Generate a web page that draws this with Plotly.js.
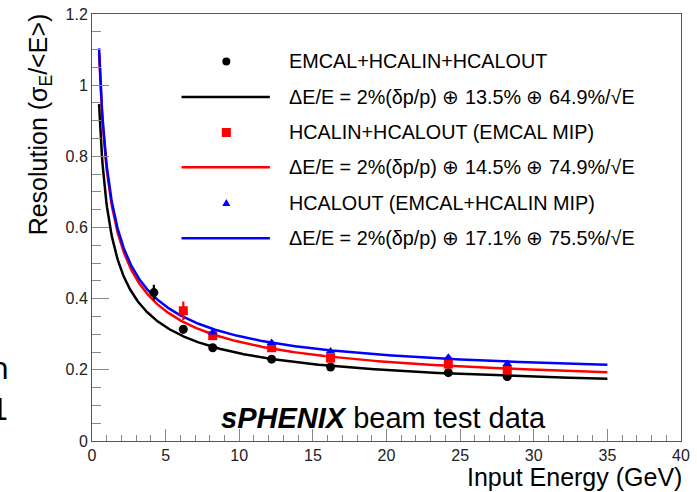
<!DOCTYPE html>
<html>
<head>
<meta charset="utf-8">
<script src="https://cdn.plot.ly/plotly-3.0.1.min.js"></script>
<style>html,body{margin:0;padding:0;background:#fff;}#chart{width:697px;height:492px;}</style>
</head>
<body>
<div id="chart"></div>
<script>
// ---- data ----
var energyAll = [4.2, 6.2, 8.2, 12.2, 16.2, 24.2, 28.2];
var resAll    = [0.417, 0.314, 0.262, 0.230, 0.208, 0.192, 0.181];
var errAll    = [0.022, 0.012, 0.005, 0.004, 0.004, 0.004, 0.004];

var energyHcal = [6.2, 8.2, 12.2, 16.2, 24.2, 28.2];
var resHcal    = [0.366, 0.296, 0.262, 0.233, 0.216, 0.199];
var errHcal    = [0.026, 0.006, 0.005, 0.004, 0.004, 0.004];

var energyOut = [8.2, 12.2, 16.2, 24.2, 28.2];
var resOut    = [0.305, 0.276, 0.252, 0.235, 0.217];
var errOut    = [0.005, 0.004, 0.004, 0.004, 0.004];

// fit parameters [momentum term, constant term, stochastic term] from the legend
var fitAll  = [0.02, 0.135, 0.649];
var fitHcal = [0.02, 0.145, 0.749];
var fitOut  = [0.02, 0.171, 0.755];
var fitRange = [0.48, 35];

var legendLabels = [
  'EMCAL+HCALIN+HCALOUT',
  '\u0394E/E = 2%(\u03b4p/p) \u2295 13.5% \u2295 64.9%/\u221aE',
  'HCALIN+HCALOUT (EMCAL MIP)',
  '\u0394E/E = 2%(\u03b4p/p) \u2295 14.5% \u2295 74.9%/\u221aE',
  'HCALOUT (EMCAL+HCALIN MIP)',
  '\u0394E/E = 2%(\u03b4p/p) \u2295 17.1% \u2295 75.5%/\u221aE'
];

// ---- fit curves (resolution function with the stated parameters) ----
function fitCurve(p) {
  var xs = [], ys = [], n = 700;
  for (var i = 0; i <= n; i++) {
    var e = fitRange[0] + (fitRange[1] - fitRange[0]) * i / n;
    xs.push(e);
    ys.push(Math.sqrt(p[0]*p[0] + p[1]*p[1] + p[2]*p[2]/e));
  }
  return {x: xs, y: ys};
}
var cA = fitCurve(fitAll), cH = fitCurve(fitHcal), cO = fitCurve(fitOut);

var FONT = 'Liberation Sans, Arial, sans-serif';
var LW = 2.5;

var traces = [
  {x: cA.x, y: cA.y, mode: 'lines', line: {color: '#000000', width: LW}, showlegend: false, hoverinfo: 'skip'},
  {x: cH.x, y: cH.y, mode: 'lines', line: {color: '#ff0000', width: LW}, showlegend: false, hoverinfo: 'skip'},
  {x: cO.x, y: cO.y, mode: 'lines', line: {color: '#0000ff', width: LW}, showlegend: false, hoverinfo: 'skip'},
  {x: energyAll, y: resAll, mode: 'markers', marker: {symbol: 'circle', size: 9, color: '#000000'},
   error_y: {type: 'data', array: errAll, visible: true, width: 0, thickness: 2.2, color: '#000000'}, showlegend: false},
  {x: energyHcal, y: resHcal, mode: 'markers', marker: {symbol: 'square', size: 9, color: '#ff0000'},
   error_y: {type: 'data', array: errHcal, visible: true, width: 0, thickness: 2.2, color: '#ff0000'}, showlegend: false},
  {x: energyOut, y: resOut, mode: 'markers', marker: {symbol: 'triangle-up', size: 8.5, color: '#0000ff'},
   error_y: {type: 'data', array: errOut, visible: true, width: 0, thickness: 2.2, color: '#0000ff'}, showlegend: false}
];

// pixel helpers for the drawn legend (plot area: x 92.3..680.7, y 14.3..441)
var L = 92.3, R = 680.7, T = 14.3, B = 441;
function px(v) { return (v - L) / (R - L); }
function py(v) { return (B - v) / (B - T); }

var rowY = [61.7, 97.2, 132.7, 167.4, 203.0, 238.3];
var symX = 226.5, lineX0 = 181.7, lineX1 = 270, textX = 288.5;

var shapes = [];
shapes.push({type: 'circle', xref: 'paper', yref: 'paper', x0: px(symX - 4), x1: px(symX + 4), y0: py(rowY[0] + 4), y1: py(rowY[0] - 4),
  fillcolor: '#000000', line: {width: 0}});
shapes.push({type: 'rect', xref: 'paper', yref: 'paper', x0: px(symX - 4.5), x1: px(symX + 4.5), y0: py(rowY[2] + 4.5), y1: py(rowY[2] - 4.5),
  fillcolor: '#ff0000', line: {width: 0}});
(function(){
  var cy = rowY[4];
  var path = 'M' + px(symX - 4) + ',' + py(cy + 3.2) + ' L' + px(symX + 4) + ',' + py(cy + 3.2) + ' L' + px(symX) + ',' + py(cy - 3.8) + ' Z';
  shapes.push({type: 'path', xref: 'paper', yref: 'paper', path: path, fillcolor: '#0000ff', line: {width: 0}});
})();
var lineColors = ['#000000', '#ff0000', '#0000ff'];
[1, 3, 5].forEach(function(r, k) {
  shapes.push({type: 'line', xref: 'paper', yref: 'paper', x0: px(lineX0), x1: px(lineX1), y0: py(rowY[r]), y1: py(rowY[r]),
    line: {color: lineColors[k], width: LW}});
});

var annotations = [];
legendLabels.forEach(function(t, i) {
  annotations.push({xref: 'paper', yref: 'paper', x: px(textX), y: py(rowY[i]), xanchor: 'left', yanchor: 'middle',
    text: t, showarrow: false, borderpad: 0, font: {family: FONT, size: 19.8, color: '#000000'}});
});
annotations.push({xref: 'paper', yref: 'paper', x: px(40), y: py(13), xanchor: 'center', yanchor: 'top', textangle: -90,
  text: 'Resolution (\u03c3<sub>E</sub>/&lt;E&gt;)', showarrow: false, borderpad: 0, font: {family: FONT, size: 25, color: '#000000'}});
annotations.push({xref: 'paper', yref: 'paper', x: px(682.5), y: py(477), xanchor: 'right', yanchor: 'middle',
  text: 'Input Energy (GeV)', showarrow: false, borderpad: 0, font: {family: FONT, size: 25, color: '#000000'}});
annotations.push({xref: 'paper', yref: 'paper', x: px(383.5), y: py(418.5), xanchor: 'center', yanchor: 'middle',
  text: '<b><i>sPHENIX</i></b> beam test data', showarrow: false, borderpad: 0, font: {family: FONT, size: 29, color: '#000000'}});
// fragments of neighbouring slide text at the left edge
annotations.push({xref: 'paper', yref: 'paper', x: px(10), y: py(369), xanchor: 'right', yanchor: 'middle',
  text: 'n', showarrow: false, borderpad: 0, font: {family: 'DejaVu Sans, sans-serif', size: 30, color: '#000000'}});
annotations.push({xref: 'paper', yref: 'paper', x: px(10.5), y: py(410), xanchor: 'right', yanchor: 'middle',
  text: '1', showarrow: false, borderpad: 0, font: {family: 'DejaVu Sans, sans-serif', size: 30, color: '#000000'}});

var layout = {
  width: 697, height: 492,
  margin: {l: L, r: 697 - R, t: T, b: 492 - B, pad: 0},
  paper_bgcolor: '#ffffff', plot_bgcolor: '#ffffff',
  showlegend: false,
  xaxis: {range: [0, 40], dtick: 5, tick0: 0, ticks: 'inside', ticklen: 12.5, tickwidth: 1, tickcolor: '#888888',
    showgrid: false, zeroline: false, showline: true, mirror: true, linecolor: '#555555', linewidth: 1,
    tickfont: {family: FONT, size: 16, color: '#222222'},
    minor: {dtick: 1, ticks: 'inside', ticklen: 6.5, tickwidth: 1, tickcolor: '#888888', showgrid: false}},
  yaxis: {range: [0, 1.2], dtick: 0.2, tick0: 0, ticks: 'inside', ticklen: 17, tickwidth: 1, tickcolor: '#888888',
    showgrid: false, zeroline: false, showline: true, mirror: true, linecolor: '#555555', linewidth: 1,
    tickfont: {family: FONT, size: 16, color: '#222222'},
    minor: {dtick: 0.05, ticks: 'inside', ticklen: 9, tickwidth: 1, tickcolor: '#888888', showgrid: false}},
  shapes: shapes,
  annotations: annotations
};

Plotly.newPlot('chart', traces, layout, {staticPlot: true, displayModeBar: false});
</script>
</body>
</html>
